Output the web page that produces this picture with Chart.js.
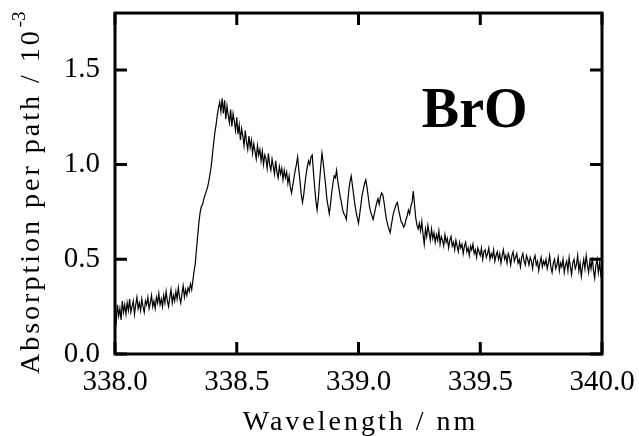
<!DOCTYPE html>
<html>
<head>
<meta charset="utf-8">
<script src="https://cdn.jsdelivr.net/npm/chart.js@4/dist/chart.umd.min.js"></script>
<style>
  html, body { margin:0; padding:0; background:#fff; }
  #absChart { display:block; }
</style>
</head>
<body>
<canvas id="absChart" width="639" height="436"></canvas>
<script>
var wavelength = [
  338.000,338.005,338.010,338.015,338.020,338.025,338.030,338.035,338.040,338.045,
  338.050,338.055,338.060,338.065,338.070,338.075,338.080,338.085,338.090,338.095,
  338.100,338.105,338.110,338.115,338.120,338.125,338.130,338.135,338.140,338.145,
  338.150,338.155,338.160,338.165,338.170,338.175,338.180,338.185,338.190,338.195,
  338.200,338.205,338.210,338.215,338.220,338.225,338.230,338.235,338.240,338.245,
  338.250,338.255,338.260,338.265,338.270,338.275,338.280,338.285,338.290,338.295,
  338.300,338.305,338.310,338.315,338.320,338.325,338.330,338.335,338.340,338.345,
  338.350,338.355,338.360,338.365,338.370,338.375,338.380,338.385,338.390,338.395,
  338.400,338.405,338.410,338.415,338.420,338.425,338.430,338.435,338.440,338.445,
  338.450,338.455,338.460,338.465,338.470,338.475,338.480,338.485,338.490,338.495,
  338.500,338.505,338.510,338.515,338.520,338.525,338.530,338.535,338.540,338.545,
  338.550,338.555,338.560,338.565,338.570,338.575,338.580,338.585,338.590,338.595,
  338.600,338.605,338.610,338.615,338.620,338.625,338.630,338.635,338.640,338.645,
  338.650,338.655,338.660,338.665,338.670,338.675,338.680,338.685,338.690,338.695,
  338.700,338.705,338.710,338.715,338.720,338.725,338.730,338.735,338.740,338.745,
  338.750,338.755,338.760,338.765,338.770,338.775,338.780,338.785,338.790,338.795,
  338.800,338.805,338.810,338.815,338.820,338.825,338.830,338.835,338.840,338.845,
  338.850,338.855,338.860,338.865,338.870,338.875,338.880,338.885,338.890,338.895,
  338.900,338.905,338.910,338.915,338.920,338.925,338.930,338.935,338.940,338.945,
  338.950,338.955,338.960,338.965,338.970,338.975,338.980,338.985,338.990,338.995,
  339.000,339.005,339.010,339.015,339.020,339.025,339.030,339.035,339.040,339.045,
  339.050,339.055,339.060,339.065,339.070,339.075,339.080,339.085,339.090,339.095,
  339.100,339.105,339.110,339.115,339.120,339.125,339.130,339.135,339.140,339.145,
  339.150,339.155,339.160,339.165,339.170,339.175,339.180,339.185,339.190,339.195,
  339.200,339.205,339.210,339.215,339.220,339.225,339.230,339.235,339.240,339.245,
  339.250,339.255,339.260,339.265,339.270,339.275,339.280,339.285,339.290,339.295,
  339.300,339.305,339.310,339.315,339.320,339.325,339.330,339.335,339.340,339.345,
  339.350,339.355,339.360,339.365,339.370,339.375,339.380,339.385,339.390,339.395,
  339.400,339.405,339.410,339.415,339.420,339.425,339.430,339.435,339.440,339.445,
  339.450,339.455,339.460,339.465,339.470,339.475,339.480,339.485,339.490,339.495,
  339.500,339.505,339.510,339.515,339.520,339.525,339.530,339.535,339.540,339.545,
  339.550,339.555,339.560,339.565,339.570,339.575,339.580,339.585,339.590,339.595,
  339.600,339.605,339.610,339.615,339.620,339.625,339.630,339.635,339.640,339.645,
  339.650,339.655,339.660,339.665,339.670,339.675,339.680,339.685,339.690,339.695,
  339.700,339.705,339.710,339.715,339.720,339.725,339.730,339.735,339.740,339.745,
  339.750,339.755,339.760,339.765,339.770,339.775,339.780,339.785,339.790,339.795,
  339.800,339.805,339.810,339.815,339.820,339.825,339.830,339.835,339.840,339.845,
  339.850,339.855,339.860,339.865,339.870,339.875,339.880,339.885,339.890,339.895,
  339.900,339.905,339.910,339.915,339.920,339.925,339.930,339.935,339.940,339.945,
  339.950,339.955,339.960,339.965,339.970,339.975,339.980,339.985,339.990,339.995,
  340.000
]
var absorption = [
  0.21,0.17,0.26,0.20,0.24,0.18,0.28,0.22,0.26,0.21,
  0.27,0.23,0.29,0.22,0.25,0.28,0.21,0.26,0.30,0.24,
  0.27,0.23,0.29,0.25,0.22,0.28,0.26,0.30,0.24,0.27,
  0.31,0.25,0.28,0.24,0.30,0.27,0.32,0.26,0.29,0.25,
  0.31,0.27,0.33,0.28,0.25,0.30,0.34,0.27,0.31,0.28,
  0.33,0.29,0.35,0.30,0.27,0.32,0.36,0.30,0.34,0.31,
  0.35,0.33,0.37,0.34,0.39,0.44,0.48,0.56,0.63,0.70,
  0.75,0.78,0.79,0.82,0.84,0.86,0.88,0.91,0.95,0.99,
  1.05,1.11,1.17,1.21,1.26,1.30,1.33,1.28,1.35,1.27,
  1.34,1.24,1.31,1.26,1.22,1.29,1.20,1.27,1.23,1.18,
  1.25,1.16,1.21,1.13,1.19,1.15,1.10,1.18,1.12,1.08,
  1.15,1.09,1.13,1.06,1.11,1.07,1.03,1.10,1.05,1.08,
  1.02,1.07,1.00,1.05,1.03,0.98,1.06,1.00,0.97,1.03,
  0.99,0.95,1.02,0.96,0.93,0.99,0.95,0.98,0.92,0.97,
  0.93,0.96,0.90,0.94,0.88,0.85,0.89,0.93,0.97,1.00,
  1.04,0.97,0.91,0.84,0.80,0.84,0.90,0.95,0.99,1.02,
  1.00,1.04,1.05,0.96,0.88,0.81,0.76,0.82,0.91,0.99,
  1.06,1.01,0.95,0.89,0.82,0.78,0.74,0.79,0.85,0.90,
  0.94,0.93,0.97,0.91,0.87,0.83,0.80,0.76,0.74,0.73,
  0.71,0.79,0.86,0.91,0.94,0.89,0.84,0.79,0.75,0.72,
  0.69,0.74,0.79,0.84,0.87,0.90,0.92,0.88,0.83,0.78,
  0.75,0.73,0.71,0.74,0.77,0.80,0.82,0.79,0.83,0.85,
  0.84,0.80,0.75,0.71,0.68,0.66,0.64,0.68,0.72,0.75,
  0.77,0.79,0.80,0.76,0.73,0.70,0.69,0.67,0.68,0.71,
  0.73,0.76,0.74,0.78,0.80,0.86,0.79,0.72,0.68,0.66,
  0.69,0.65,0.70,0.63,0.58,0.66,0.62,0.68,0.64,0.60,
  0.66,0.61,0.64,0.59,0.63,0.60,0.65,0.58,0.62,0.60,
  0.57,0.63,0.59,0.61,0.56,0.60,0.62,0.57,0.59,0.55,
  0.60,0.57,0.54,0.59,0.56,0.58,0.53,0.57,0.59,0.54,
  0.56,0.52,0.57,0.55,0.58,0.53,0.55,0.51,0.56,0.54,
  0.52,0.56,0.50,0.54,0.55,0.51,0.53,0.56,0.50,0.53,
  0.51,0.55,0.49,0.52,0.54,0.50,0.53,0.48,0.52,0.55,
  0.50,0.52,0.48,0.53,0.51,0.47,0.52,0.54,0.49,0.51,
  0.53,0.48,0.50,0.46,0.51,0.53,0.49,0.47,0.52,0.50,
  0.47,0.51,0.49,0.45,0.50,0.52,0.47,0.49,0.44,0.48,
  0.51,0.46,0.49,0.47,0.50,0.45,0.48,0.52,0.46,0.43,
  0.48,0.50,0.45,0.47,0.51,0.44,0.48,0.46,0.50,0.43,
  0.47,0.49,0.44,0.51,0.46,0.42,0.48,0.50,0.45,0.47,
  0.52,0.44,0.48,0.41,0.46,0.50,0.45,0.52,0.47,0.43,
  0.49,0.45,0.51,0.44,0.40,0.47,0.50,0.43,0.48,0.42,
  0.46
]
var xTicks = [338.0, 338.5, 339.0, 339.5, 340.0]
var yTicks = [0.0, 0.5, 1.0, 1.5]
var xRange = [338.0, 340.0]
var yRange = [0, 1.8]
var xTitle = "Wavelength / nm"
var yTitle = "Absorption per path / 10"
var yTitleExp = "-3"
var speciesLabel = "BrO"
var speciesPos = [339.26, 1.20]

var serif = "'Liberation Serif', 'Times New Roman', serif"

// frame, inward ticks on all four sides, axis titles and species label
var framePlugin = {
  id:"frame",
  afterDraw:function(chart){
    var ctx = chart.ctx
    var a = chart.chartArea
    var xs = chart.scales.x
    var ys = chart.scales.y
    var tl = 12
    ctx.save()
    ctx.strokeStyle = "#000"
    ctx.lineWidth = 3
    ctx.beginPath()
    xTicks.forEach(function(v){
      var px = xs.getPixelForValue(v)
      ctx.moveTo(px, a.bottom); ctx.lineTo(px, a.bottom - tl)
      ctx.moveTo(px, a.top); ctx.lineTo(px, a.top + tl)
    })
    yTicks.forEach(function(v){
      var py = ys.getPixelForValue(v)
      ctx.moveTo(a.left, py); ctx.lineTo(a.left + tl, py)
      ctx.moveTo(a.right, py); ctx.lineTo(a.right - tl, py)
    })
    ctx.stroke()
    ctx.strokeRect(a.left, a.top, a.right - a.left, a.bottom - a.top)

    ctx.fillStyle = "#000"
    ctx.letterSpacing = "3px"
    ctx.font = "28px " + serif
    ctx.textAlign = "center"
    ctx.textBaseline = "alphabetic"
    ctx.fillText(xTitle, (a.left + a.right) / 2 + 2, 430)

    ctx.save()
    ctx.translate(39, 374)
    ctx.rotate(-Math.PI / 2)
    ctx.textAlign = "left"
    ctx.fillText(yTitle, 0, 0)
    var w = ctx.measureText(yTitle).width
    ctx.letterSpacing = "0px"
    ctx.font = "19px " + serif
    ctx.fillText(yTitleExp, w + 1, -14)
    ctx.restore()

    ctx.letterSpacing = "0px"
    ctx.font = "bold 56px " + serif
    ctx.textAlign = "left"
    ctx.fillText(speciesLabel, xs.getPixelForValue(speciesPos[0]), ys.getPixelForValue(speciesPos[1]))
    ctx.restore()
  }
}

var points = wavelength.map(function(x, i){ return {x:x, y:absorption[i]} })

// invisible tick marks give the label gap without adding padding to the chart area
var hiddenGrid = function(len){
  return { display:true, drawOnChartArea:false, drawTicks:true, tickLength:len, color:"rgba(0,0,0,0)" }
}

var absChart = new Chart(document.getElementById("absChart"), {
  type:"line",
  data:{
    datasets:[{
      label:"BrO",
      data:points,
      borderColor:"#000",
      borderWidth:1.2,
      pointRadius:0,
      tension:0,
      fill:false
    }]
  },
  options:{
    responsive:false,
    animation:false,
    layout:{ padding:{ top:13, right:37, left:0, bottom:0 } },
    plugins:{ legend:{ display:false }, tooltip:{ enabled:false } },
    scales:{
      x:{
        type:"linear",
        min:xRange[0],
        max:xRange[1],
        grid:hiddenGrid(15),
        border:{ display:false },
        afterBuildTicks:function(axis){ axis.ticks = xTicks.map(function(v){ return {value:v} }) },
        afterFit:function(axis){ axis.height = 82 },
        ticks:{
          color:"#000",
          padding:0,
          maxRotation:0,
          font:{ family:serif, size:29, lineHeight:0.9 },
          callback:function(v){ return Number(v).toFixed(1) }
        }
      },
      y:{
        type:"linear",
        min:yRange[0],
        max:yRange[1],
        grid:hiddenGrid(15),
        border:{ display:false },
        afterBuildTicks:function(axis){ axis.ticks = yTicks.map(function(v){ return {value:v} }) },
        afterFit:function(axis){ axis.width = 115 },
        ticks:{
          color:"#000",
          padding:0,
          font:{ family:serif, size:29, lineHeight:0.9 },
          callback:function(v){ return Number(v).toFixed(1) }
        }
      }
    }
  },
  plugins:[framePlugin]
})
</script>
</body>
</html>
